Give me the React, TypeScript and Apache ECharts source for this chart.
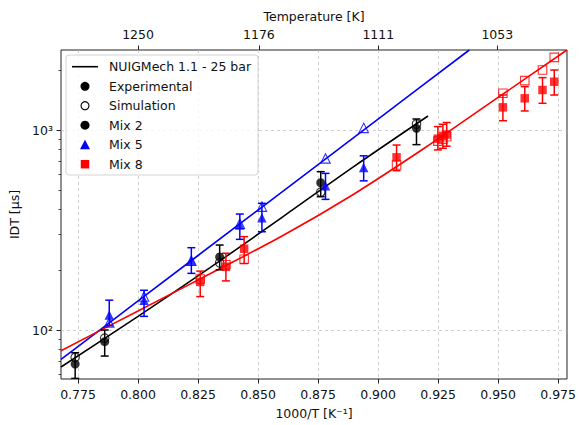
import React, { useEffect, useRef } from 'react';
import * as echarts from 'echarts';

const FONT = '"DejaVu Sans", "Liberation Sans", sans-serif';
const TEXT = '#111';
const SPINE = '#222';
const GRID = '#c4c4c4';

// axis ranges (1000/T and ignition delay in µs)
const X_MIN = 0.7679;
const X_MAX = 0.9787;
const Y_MIN = 56.9;
const Y_MAX = 2512;

const INV_T_TICKS = [0.775, 0.8, 0.825, 0.85, 0.875, 0.9, 0.925, 0.95, 0.975];
const TEMP_TICKS = [1250, 1176, 1111, 1053];
const IDT_TICKS = [100, 1000];
const IDT_MINOR_TICKS = [60, 70, 80, 90, 200, 300, 400, 500, 600, 700, 800, 900, 2000];

// NUIGMech 1.1 predictions at 25 bar
const MODEL_X_MIX2 = [0.7679, 0.8, 0.83, 0.86, 0.89, 0.9208];
const MODEL_MIX2 = [65.3, 117.1, 204.9, 366, 658, 1175];
const MODEL_X_MIX5 = [0.7679, 0.8, 0.85, 0.9, 0.938];
const MODEL_MIX5 = [71.3, 139.7, 398, 1134, 2512];
const MODEL_X_MIX8 = [0.7679, 0.8, 0.83, 0.86, 0.89, 0.92, 0.95, 0.9787];
const MODEL_MIX8 = [78.8, 124.6, 191.2, 295, 479, 822, 1455, 2512];

// Mix 2 measurements
const MIX2_X = [0.7738, 0.7861, 0.834, 0.8761, 0.916];
const MIX2_EXP = [67.6, 87.4, 232, 545, 1020];
const MIX2_LO = [57.3, 74.1, 200, 464, 845];
const MIX2_HI = [77, 100, 266, 619, 1135];
const MIX2_SIM = [73, 91, 217, 489, 1072];

// Mix 5 measurements
const MIX5_X = [0.788, 0.8025, 0.8222, 0.8424, 0.8516, 0.8781, 0.894];
const MIX5_EXP = [119, 141, 222, 335, 364, 526, 650];
const MIX5_LO = [105, 117, 192, 284, 310, 450, 557];
const MIX5_HI = [141, 158, 258, 380, 430, 607, 743];
const MIX5_SIM = [109, 147, 222, 340, 414, 721, 1025];

// Mix 8 measurements
const MIX8_X = [0.8259, 0.8366, 0.8442, 0.9077, 0.9249, 0.927, 0.9286, 0.952, 0.9611, 0.9685, 0.9734];
const MIX8_EXP = [174, 207, 255, 730, 905, 935, 950, 1298, 1440, 1585, 1744];
const MIX8_LO = [147, 176, 215, 626, 795, 810, 830, 1113, 1245, 1360, 1496];
const MIX8_HI = [197, 242, 293, 841, 1040, 1068, 1090, 1496, 1647, 1827, 1995];
const MIX8_SIM = [180, 212, 226, 668, 880, 900, 925, 1526, 1765, 1995, 2308];

const BLACK = '#000000';
const BLUE = '#0000ff';
const RED = '#ff0000';

const SUP: Record<string, string> = { '0': '⁰', '1': '¹', '2': '²', '3': '³', '4': '⁴', '5': '⁵' };

const zip = (xs: number[], ys: number[]) => xs.map((x, i) => [x, ys[i]]);
const bars = (xs: number[], lo: number[], hi: number[]) => xs.map((x, i) => [x, lo[i], hi[i]]);

function modelLine(name: string, xs: number[], ys: number[], color: string) {
  return {
    type: 'line',
    name,
    data: zip(xs, ys),
    showSymbol: false,
    smooth: 0.3,
    clip: true,
    z: 2,
    lineStyle: { color, width: 1.6 },
  };
}

function errorBars(name: string, data: number[][], color: string) {
  return {
    type: 'custom',
    name,
    data,
    clip: true,
    z: 3,
    encode: { x: 0, y: [1, 2] },
    renderItem: (_params: any, api: any) => {
      const x = api.value(0);
      const top = api.coord([x, api.value(2)]);
      const bot = api.coord([x, api.value(1)]);
      const w = 4;
      const style = { stroke: color, lineWidth: 1.5 };
      return {
        type: 'group',
        children: [
          { type: 'line', shape: { x1: top[0], y1: top[1], x2: bot[0], y2: bot[1] }, style },
          { type: 'line', shape: { x1: top[0] - w, y1: top[1], x2: top[0] + w, y2: top[1] }, style },
          { type: 'line', shape: { x1: bot[0] - w, y1: bot[1], x2: bot[0] + w, y2: bot[1] }, style },
        ],
      };
    },
  };
}

function markers(name: string, data: number[][], symbol: string, size: number, color: string, open: boolean) {
  return {
    type: 'scatter',
    name,
    data,
    symbol,
    symbolSize: size,
    clip: true,
    z: open ? 4 : 5,
    itemStyle: open
      ? { color: 'rgba(0,0,0,0)', borderColor: color, borderWidth: 1.1 }
      : { color, borderColor: color, borderWidth: 0 },
  };
}

function legendGraphic() {
  const left = 66;
  const top = 55;
  const textX = 109;
  const mx = 85;
  const rows = [66.7, 86.3, 105.7, 125.2, 144.7, 164.2];
  const labels = ['NUIGMech 1.1 - 25 bar', 'Experimental', 'Simulation', 'Mix 2', 'Mix 5', 'Mix 8'];
  const els: any[] = [
    {
      type: 'rect',
      z: 100,
      shape: { x: left, y: top, width: 192, height: 120, r: 3 },
      style: { fill: 'rgba(255,255,255,0.8)', stroke: '#d4d4d4', lineWidth: 1 },
    },
    {
      type: 'line',
      z: 101,
      shape: { x1: 72, y1: rows[0], x2: 98, y2: rows[0] },
      style: { stroke: BLACK, lineWidth: 1.6 },
    },
    { type: 'circle', z: 101, shape: { cx: mx, cy: rows[1], r: 4.5 }, style: { fill: BLACK } },
    { type: 'circle', z: 101, shape: { cx: mx, cy: rows[2], r: 4 }, style: { fill: 'none', stroke: BLACK, lineWidth: 1.1 } },
    { type: 'circle', z: 101, shape: { cx: mx, cy: rows[3], r: 4.5 }, style: { fill: BLACK } },
    {
      type: 'polygon',
      z: 101,
      shape: { points: [[mx, rows[4] - 5], [mx - 5, rows[4] + 4.5], [mx + 5, rows[4] + 4.5]] },
      style: { fill: BLUE },
    },
    { type: 'rect', z: 101, shape: { x: mx - 4.25, y: rows[5] - 4.25, width: 8.5, height: 8.5 }, style: { fill: RED } },
  ];
  labels.forEach((t, i) => {
    els.push({
      type: 'text',
      z: 101,
      x: textX,
      y: rows[i],
      style: { text: t, fontFamily: FONT, fontSize: 12.5, fill: TEXT, verticalAlign: 'middle', align: 'left' },
    });
  });
  return els;
}

export default function App() {
  const ref = useRef<HTMLDivElement>(null);

  useEffect(() => {
    if (!ref.current) return;
    const chart = echarts.init(ref.current, undefined, { renderer: 'svg' });

    const tickLabel = { fontFamily: FONT, fontSize: 12.5, color: TEXT };
    const nameStyle = { fontFamily: FONT, fontSize: 12.5, color: TEXT };
    const gridLine = { show: true, lineStyle: { type: [3, 3], color: GRID, width: 0.8 } };

    const option: any = {
      animation: false,
      backgroundColor: '#ffffff',
      grid: {
        left: 61,
        right: 7,
        top: 50,
        bottom: 46,
        show: true,
        borderColor: SPINE,
        borderWidth: 1,
        backgroundColor: 'transparent',
        containLabel: false,
      },
      xAxis: [
        {
          type: 'value',
          position: 'bottom',
          min: X_MIN,
          max: X_MAX,
          name: '1000/T [K⁻¹]',
          nameLocation: 'middle',
          nameGap: 28,
          nameTextStyle: nameStyle,
          axisLine: { show: false },
          axisTick: { show: true, length: 4.5, customValues: INV_T_TICKS, lineStyle: { color: SPINE, width: 1 } },
          axisLabel: {
            customValues: INV_T_TICKS,
            formatter: (v: number) => v.toFixed(3),
            margin: 9,
            ...tickLabel,
          },
          splitLine: gridLine,
        },
        {
          type: 'value',
          position: 'top',
          min: X_MIN,
          max: X_MAX,
          name: 'Temperature [K]',
          nameLocation: 'middle',
          nameGap: 27,
          nameTextStyle: nameStyle,
          axisLine: { show: false },
          axisTick: {
            show: true,
            length: 4.5,
            customValues: TEMP_TICKS.map((t) => 1000 / t),
            lineStyle: { color: SPINE, width: 1 },
          },
          axisLabel: {
            customValues: TEMP_TICKS.map((t) => 1000 / t),
            formatter: (v: number) => String(Math.round(1000 / v)),
            margin: 9,
            ...tickLabel,
          },
          splitLine: { show: false },
        },
      ],
      yAxis: [
        {
          type: 'log',
          logBase: 10,
          min: Y_MIN,
          max: Y_MAX,
          name: 'IDT [μs]',
          nameLocation: 'middle',
          nameGap: 38,
          nameRotate: 90,
          nameTextStyle: nameStyle,
          axisLine: { show: false },
          axisTick: { show: true, length: 4.5, customValues: IDT_TICKS, lineStyle: { color: SPINE, width: 1 } },
          axisLabel: {
            customValues: IDT_TICKS,
            formatter: (v: number) => '10' + SUP[String(Math.round(Math.log10(v)))],
            margin: 8,
            ...tickLabel,
          },
          splitLine: gridLine,
        },
        {
          type: 'log',
          logBase: 10,
          min: Y_MIN,
          max: Y_MAX,
          position: 'left',
          axisLine: { show: false },
          axisTick: { show: true, length: 2.5, customValues: IDT_MINOR_TICKS, lineStyle: { color: SPINE, width: 0.8 } },
          axisLabel: { show: false },
          splitLine: { show: false },
        },
      ],
      graphic: legendGraphic(),
      series: [
        modelLine('Mix 2 model', MODEL_X_MIX2, MODEL_MIX2, BLACK),
        modelLine('Mix 5 model', MODEL_X_MIX5, MODEL_MIX5, BLUE),
        modelLine('Mix 8 model', MODEL_X_MIX8, MODEL_MIX8, RED),

        errorBars('Mix 2 error', bars(MIX2_X, MIX2_LO, MIX2_HI), BLACK),
        markers('Mix 2 simulation', zip(MIX2_X, MIX2_SIM), 'circle', 8.5, BLACK, true),
        markers('Mix 2', zip(MIX2_X, MIX2_EXP), 'circle', 9, BLACK, false),

        errorBars('Mix 5 error', bars(MIX5_X, MIX5_LO, MIX5_HI), BLUE),
        markers('Mix 5 simulation', zip(MIX5_X, MIX5_SIM), 'triangle', 9.5, BLUE, true),
        markers('Mix 5', zip(MIX5_X, MIX5_EXP), 'triangle', 9.5, BLUE, false),

        errorBars('Mix 8 error', bars(MIX8_X, MIX8_LO, MIX8_HI), RED),
        markers('Mix 8 simulation', zip(MIX8_X, MIX8_SIM), 'rect', 8.5, RED, true),
        markers('Mix 8', zip(MIX8_X, MIX8_EXP), 'rect', 8.5, RED, false),
      ],
    };

    chart.setOption(option);
    return () => chart.dispose();
  }, []);

  return (
    <div
      ref={ref}
      style={{ position: 'fixed', left: 0, top: 0, width: 579, height: 425, background: '#fff' }}
    />
  );
}
